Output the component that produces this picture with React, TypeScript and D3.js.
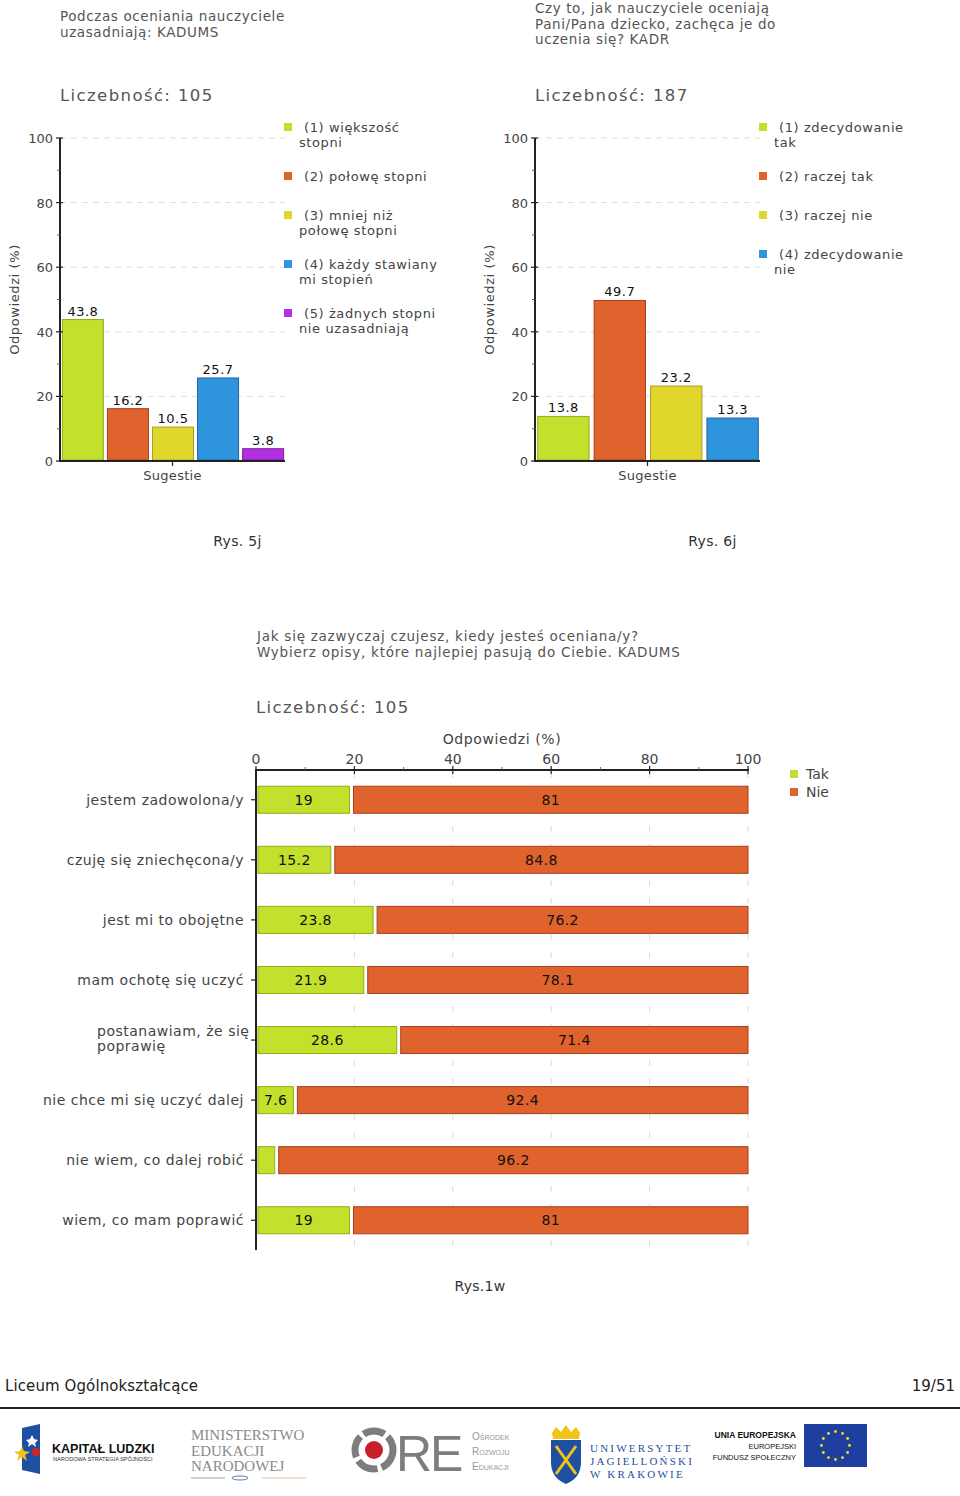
import React from "react";
import * as d3 from "d3";

// ---------- DATA ----------
const chart1Title = ["Podczas oceniania nauczyciele", "uzasadniają: KADUMS"];
const chart1Count = "Liczebność: 105";
const chart1Legend = [
  ["(1) większość", "stopni"],
  ["(2) połowę stopni"],
  ["(3) mniej niż", "połowę stopni"],
  ["(4) każdy stawiany", "mi stopień"],
  ["(5) żadnych stopni", "nie uzasadniają"],
];
const chart1Values = [43.8, 16.2, 10.5, 25.7, 3.8];

const chart2Title = ["Czy to, jak nauczyciele oceniają", "Pani/Pana dziecko, zachęca je do", "uczenia się? KADR"];
const chart2Count = "Liczebność: 187";
const chart2Legend = [
  ["(1) zdecydowanie", "tak"],
  ["(2) raczej tak"],
  ["(3) raczej nie"],
  ["(4) zdecydowanie", "nie"],
];
const chart2Values = [13.8, 49.7, 23.2, 13.3];

const yTicks = [0, 20, 40, 60, 80, 100];
const minorTicks = [10, 30, 50, 70, 90];

const chart3Title = ["Jak się zazwyczaj czujesz, kiedy jesteś oceniana/y?", "Wybierz opisy, które najlepiej pasują do Ciebie. KADUMS"];
const chart3Count = "Liczebność: 105";
const chart3Categories = [
  ["jestem zadowolona/y"],
  ["czuję się zniechęcona/y"],
  ["jest mi to obojętne"],
  ["mam ochotę się uczyć"],
  ["postanawiam, że się", "poprawię"],
  ["nie chce mi się uczyć dalej"],
  ["nie wiem, co dalej robić"],
  ["wiem, co mam poprawić"],
];
const chart3Tak = [19, 15.2, 23.8, 21.9, 28.6, 7.6, 3.8, 19];
const chart3Nie = [81, 84.8, 76.2, 78.1, 71.4, 92.4, 96.2, 81];
const chart3Series = ["Tak", "Nie"];

const palette = ["#c2e02c", "#e0632e", "#e0d62c", "#2e95dd", "#b12fe0"];
const strokes = ["#8fae1a", "#a8401a", "#aaa01a", "#1a64a0", "#7a1aa0"];

const FONT = "'DejaVu Sans', Verdana, sans-serif";
const TXT = "#444";

// ---------- COMPONENTS ----------
type VProps = {
  axisX: number;
  plotRight: number;
  values: number[];
  legend: string[][];
  legendX: number;
  legendY: number[];
  title: string[];
  titleY: number;
  count: string;
  caption: string;
};

function VerticalChart(p: VProps) {
  const y = d3.scaleLinear().domain([0, 100]).range([461, 138]);
  const x = d3
    .scaleBand<number>()
    .domain(p.values.map((_, i) => i))
    .range([p.axisX + 1, p.plotRight])
    .paddingInner(0.09)
    .paddingOuter(0.03);
  const mid = (p.axisX + p.plotRight) / 2;
  return (
    <g fontFamily={FONT}>
      {p.title.map((t, i) => (
        <text key={i} x={p.axisX} y={p.titleY + i * 15.5} fontSize={13.5} fill="#555" letterSpacing={0.6}>
          {t}
        </text>
      ))}
      <text x={p.axisX} y={101} fontSize={16.5} fill="#555" letterSpacing={1.4}>
        {p.count}
      </text>
      {yTicks.slice(1).map((t) => (
        <line key={t} x1={p.axisX} x2={p.plotRight} y1={y(t)} y2={y(t)} stroke="#ddd" strokeDasharray="6,5" />
      ))}
      {p.values.map((v, i) => (
        <g key={i}>
          <rect
            x={x(i)!}
            y={y(v)}
            width={x.bandwidth()}
            height={y(0) - y(v) - 1}
            fill={palette[i]}
            stroke={strokes[i]}
            strokeWidth={1}
          />
          <text x={x(i)! + x.bandwidth() / 2} y={y(v) - 4} textAnchor="middle" fontSize={13} fill="#111" letterSpacing={0.5}>
            {v}
          </text>
        </g>
      ))}
      <line x1={p.axisX} x2={p.axisX} y1={y(100)} y2={y(0)} stroke="#222" strokeWidth={2} />
      <line x1={p.axisX - 1} x2={p.plotRight} y1={y(0)} y2={y(0)} stroke="#222" strokeWidth={2} />
      {yTicks.map((t) => (
        <g key={t}>
          <line x1={p.axisX - 4} x2={p.axisX + 3} y1={y(t)} y2={y(t)} stroke="#222" strokeWidth={1.2} />
          <text x={p.axisX - 7} y={y(t) + 5} textAnchor="end" fontSize={13} fill={TXT}>
            {t}
          </text>
        </g>
      ))}
      {minorTicks.map((t) => (
        <line key={t} x1={p.axisX - 3} x2={p.axisX} y1={y(t)} y2={y(t)} stroke="#c33" strokeWidth={1} />
      ))}
      <line x1={mid} x2={mid} y1={y(0)} y2={y(0) + 5} stroke="#222" strokeWidth={1.2} />
      <text x={mid} y={480} textAnchor="middle" fontSize={13} fill={TXT} letterSpacing={0.3}>
        Sugestie
      </text>
      <text
        transform={`translate(${p.axisX - 41},${(y(0) + y(100)) / 2}) rotate(-90)`}
        textAnchor="middle"
        fontSize={13}
        fill={TXT}
        letterSpacing={0.6}
      >
        Odpowiedzi (%)
      </text>
      {p.legend.map((lines, i) => (
        <g key={i}>
          <rect x={p.legendX} y={p.legendY[i] - 4} width={8} height={8} fill={palette[i]} />
          {lines.map((l, j) => (
            <text
              key={j}
              x={j === 0 ? p.legendX + 20 : p.legendX + 15}
              y={p.legendY[i] + 5 + j * 15}
              fontSize={13}
              fill={TXT}
              letterSpacing={0.6}
            >
              {l}
            </text>
          ))}
        </g>
      ))}
      <text x={mid + 65} y={546} textAnchor="middle" fontSize={14} fill="#333" letterSpacing={0.3}>
        {p.caption}
      </text>
    </g>
  );
}

function HorizontalChart() {
  const x = d3.scaleLinear().domain([0, 100]).range([256, 748]);
  const y = d3
    .scaleBand<number>()
    .domain(chart3Categories.map((_, i) => i))
    .range([770, 1250])
    .paddingInner(0.55)
    .paddingOuter(0.27);
  const ticks = x.ticks(5);
  const minor = d3.range(10, 100, 20);
  return (
    <g fontFamily={FONT}>
      {chart3Title.map((t, i) => (
        <text key={i} x={257} y={641 + i * 15.5} fontSize={13.5} fill="#555" letterSpacing={0.75}>
          {t}
        </text>
      ))}
      <text x={256} y={713} fontSize={16.5} fill="#555" letterSpacing={1.4}>
        {chart3Count}
      </text>
      <text x={(x(0) + x(100)) / 2} y={744} textAnchor="middle" fontSize={14} fill={TXT} letterSpacing={0.6}>
        Odpowiedzi (%)
      </text>
      {ticks.slice(1).map((t) => (
        <line key={t} x1={x(t)} x2={x(t)} y1={772} y2={1250} stroke="#ddd" strokeDasharray="6,12" />
      ))}
      {chart3Categories.map((lines, i) => {
        const y0 = y(i)!;
        const h = y.bandwidth();
        const cy = y0 + h / 2;
        const tak = chart3Tak[i];
        const nie = chart3Nie[i];
        const tx0 = x(0) + 2;
        const tx1 = x(tak);
        const nx0 = x(tak) + 4;
        const nx1 = x(tak + nie);
        return (
          <g key={i}>
            <rect x={tx0} y={y0} width={tx1 - tx0} height={h} fill={palette[0]} stroke={strokes[0]} />
            <rect x={nx0} y={y0} width={nx1 - nx0} height={h} fill={palette[1]} stroke={strokes[1]} />
            {tx1 - tx0 > 22 && (
              <text x={(tx0 + tx1) / 2} y={cy + 5} textAnchor="middle" fontSize={14} fill="#111" letterSpacing={0.4}>
                {tak}
              </text>
            )}
            {nx1 - nx0 > 22 && (
              <text x={(nx0 + nx1) / 2} y={cy + 5} textAnchor="middle" fontSize={14} fill="#111" letterSpacing={0.4}>
                {nie}
              </text>
            )}
            <line x1={251} x2={256} y1={cy} y2={cy} stroke="#222" strokeWidth={1.2} />
            {lines.length === 1 ? (
              <text x={244} y={cy + 5} textAnchor="end" fontSize={14} fill={TXT} letterSpacing={0.5}>
                {lines[0]}
              </text>
            ) : (
              lines.map((l, j) => (
                <text key={j} x={97} y={cy - 4 + j * 15} fontSize={14} fill={TXT} letterSpacing={0.5}>
                  {l}
                </text>
              ))
            )}
          </g>
        );
      })}
      <line x1={256} x2={256} y1={769} y2={1250} stroke="#222" strokeWidth={2} />
      <line x1={255} x2={749} y1={770} y2={770} stroke="#222" strokeWidth={2} />
      {ticks.map((t) => (
        <g key={t}>
          <line x1={x(t)} x2={x(t)} y1={766} y2={774} stroke="#222" strokeWidth={1.2} />
          <text x={x(t)} y={764} textAnchor="middle" fontSize={14} fill={TXT}>
            {t}
          </text>
        </g>
      ))}
      {minor.map((t) => (
        <line key={t} x1={x(t)} x2={x(t)} y1={767} y2={770} stroke="#c33" />
      ))}
      {chart3Series.map((s, i) => (
        <g key={s}>
          <rect x={790} y={770 + i * 18} width={8} height={8} fill={palette[i]} />
          <text x={806} y={779 + i * 18} fontSize={14} fill={TXT}>
            {s}
          </text>
        </g>
      ))}
      <text x={480} y={1291} textAnchor="middle" fontSize={14} fill="#333" letterSpacing={0.3}>
        Rys.1w
      </text>
    </g>
  );
}

function Footer() {
  const starAngles = d3.range(12).map((i) => (i * Math.PI * 2) / 12);
  return (
    <g fontFamily={FONT}>
      <text x={5} y={1391} fontSize={15} fill="#222" letterSpacing={0.1}>
        Liceum Ogólnokształcące
      </text>
      <text x={955} y={1391} textAnchor="end" fontSize={15} fill="#222">
        19/51
      </text>
      <line x1={0} x2={960} y1={1408} y2={1408} stroke="#222" strokeWidth={2} />
      {/* Kapitał Ludzki */}
      <polygon points="22,1428 40,1424 40,1474 22,1470" fill="#1f4fa0" />
      <polygon points="14,1452 20,1451 22,1446 24,1451 30,1452 25,1455 27,1461 22,1457 17,1461 19,1455" fill="#f2c318" />
      <polygon points="26,1440 30,1439 32,1435 34,1439 38,1440 35,1443 36,1447 32,1444 28,1447 29,1443" fill="#fff" />
      <circle cx={36} cy={1452} r={4} fill="#d8222a" />
      <text x={52} y={1453} fontSize={12.5} fontWeight="bold" fill="#111" fontFamily="'Liberation Sans', Arial, sans-serif">
        KAPITAŁ LUDZKI
      </text>
      <text x={53} y={1461} fontSize={5.6} fill="#333" fontFamily="'Liberation Sans', Arial, sans-serif">
        NARODOWA STRATEGIA SPÓJNOŚCI
      </text>
      {/* MEN */}
      {["MINISTERSTWO", "EDUKACJI", "NARODOWEJ"].map((t, i) => (
        <text key={t} x={191} y={1440 + i * 15.5} fontSize={15} fill="#8a8a8a" fontFamily="'Liberation Serif', serif">
          {t}
        </text>
      ))}
      <line x1={191} x2={225} y1={1478} y2={1478} stroke="#9aa6b8" strokeWidth={1} />
      <line x1={262} x2={306} y1={1478} y2={1478} stroke="#e0c0a0" strokeWidth={1} />
      <ellipse cx={240} cy={1478} rx={8} ry={2} fill="none" stroke="#5a78a8" />
      {/* ORE */}
      <circle cx={374} cy={1450} r={19} fill="none" stroke="#7d7d7d" strokeWidth={7} strokeDasharray="22,4" />
      <circle cx={374} cy={1450} r={9} fill="#c8202a" />
      <text x={396} y={1471} fontSize={50} fill="#7d7d7d" fontFamily="'Liberation Sans', Arial, sans-serif" letterSpacing={-2}>
        RE
      </text>
      {["Ośrodek", "Rozwoju", "Edukacji"].map((t, i) => (
        <text key={t} x={472} y={1440 + i * 15} fontSize={10} fill="#999" fontVariant="small-caps" fontFamily="'Liberation Sans', Arial, sans-serif">
          {t}
        </text>
      ))}
      {/* UJ */}
      <path d="M551,1440 L581,1440 L581,1462 Q581,1478 566,1484 Q551,1478 551,1462 Z" fill="#1f4fa0" />
      <path d="M552,1433 L556,1427 L561,1432 L566,1425 L571,1432 L576,1427 L580,1433 L579,1439 L553,1439 Z" fill="#f2c318" />
      <line x1={556} x2={576} y1={1446} y2={1474} stroke="#f2c318" strokeWidth={3} />
      <line x1={576} x2={556} y1={1446} y2={1474} stroke="#f2c318" strokeWidth={3} />
      {["UNIWERSYTET", "JAGIELLOŃSKI", "W KRAKOWIE"].map((t, i) => (
        <text key={t} x={590} y={1452 + i * 13} fontSize={11} fill="#1f4fa0" letterSpacing={2.2} fontFamily="'Liberation Serif', serif">
          {t}
        </text>
      ))}
      {/* UE */}
      <text x={796} y={1438} textAnchor="end" fontSize={8.5} fontWeight="bold" fill="#111" fontFamily="'Liberation Sans', Arial, sans-serif">
        UNIA EUROPEJSKA
      </text>
      <text x={796} y={1449} textAnchor="end" fontSize={7.5} fill="#111" fontFamily="'Liberation Sans', Arial, sans-serif">
        EUROPEJSKI
      </text>
      <text x={796} y={1460} textAnchor="end" fontSize={7.5} fill="#111" fontFamily="'Liberation Sans', Arial, sans-serif">
        FUNDUSZ SPOŁECZNY
      </text>
      <rect x={804} y={1424} width={63} height={43} fill="#1f3fa0" />
      {starAngles.map((a, i) => (
        <circle key={i} cx={835.5 + Math.cos(a) * 14} cy={1445.5 + Math.sin(a) * 14} r={1.4} fill="#f2e218" />
      ))}
    </g>
  );
}

export default function App() {
  return (
    <svg
      width={960}
      height={1496}
      style={{ position: "absolute", left: 0, top: 0, background: "#fff" }}
    >
      <rect width={960} height={1496} fill="#fff" />
      <VerticalChart
        axisX={60}
        plotRight={285}
        values={chart1Values}
        legend={chart1Legend}
        legendX={284}
        legendY={[127, 176, 215, 264, 313]}
        title={chart1Title}
        titleY={21}
        count={chart1Count}
        caption="Rys. 5j"
      />
      <VerticalChart
        axisX={535}
        plotRight={760}
        values={chart2Values}
        legend={chart2Legend}
        legendX={759}
        legendY={[127, 176, 215, 254]}
        title={chart2Title}
        titleY={13}
        count={chart2Count}
        caption="Rys. 6j"
      />
      <HorizontalChart />
      <Footer />
    </svg>
  );
}
